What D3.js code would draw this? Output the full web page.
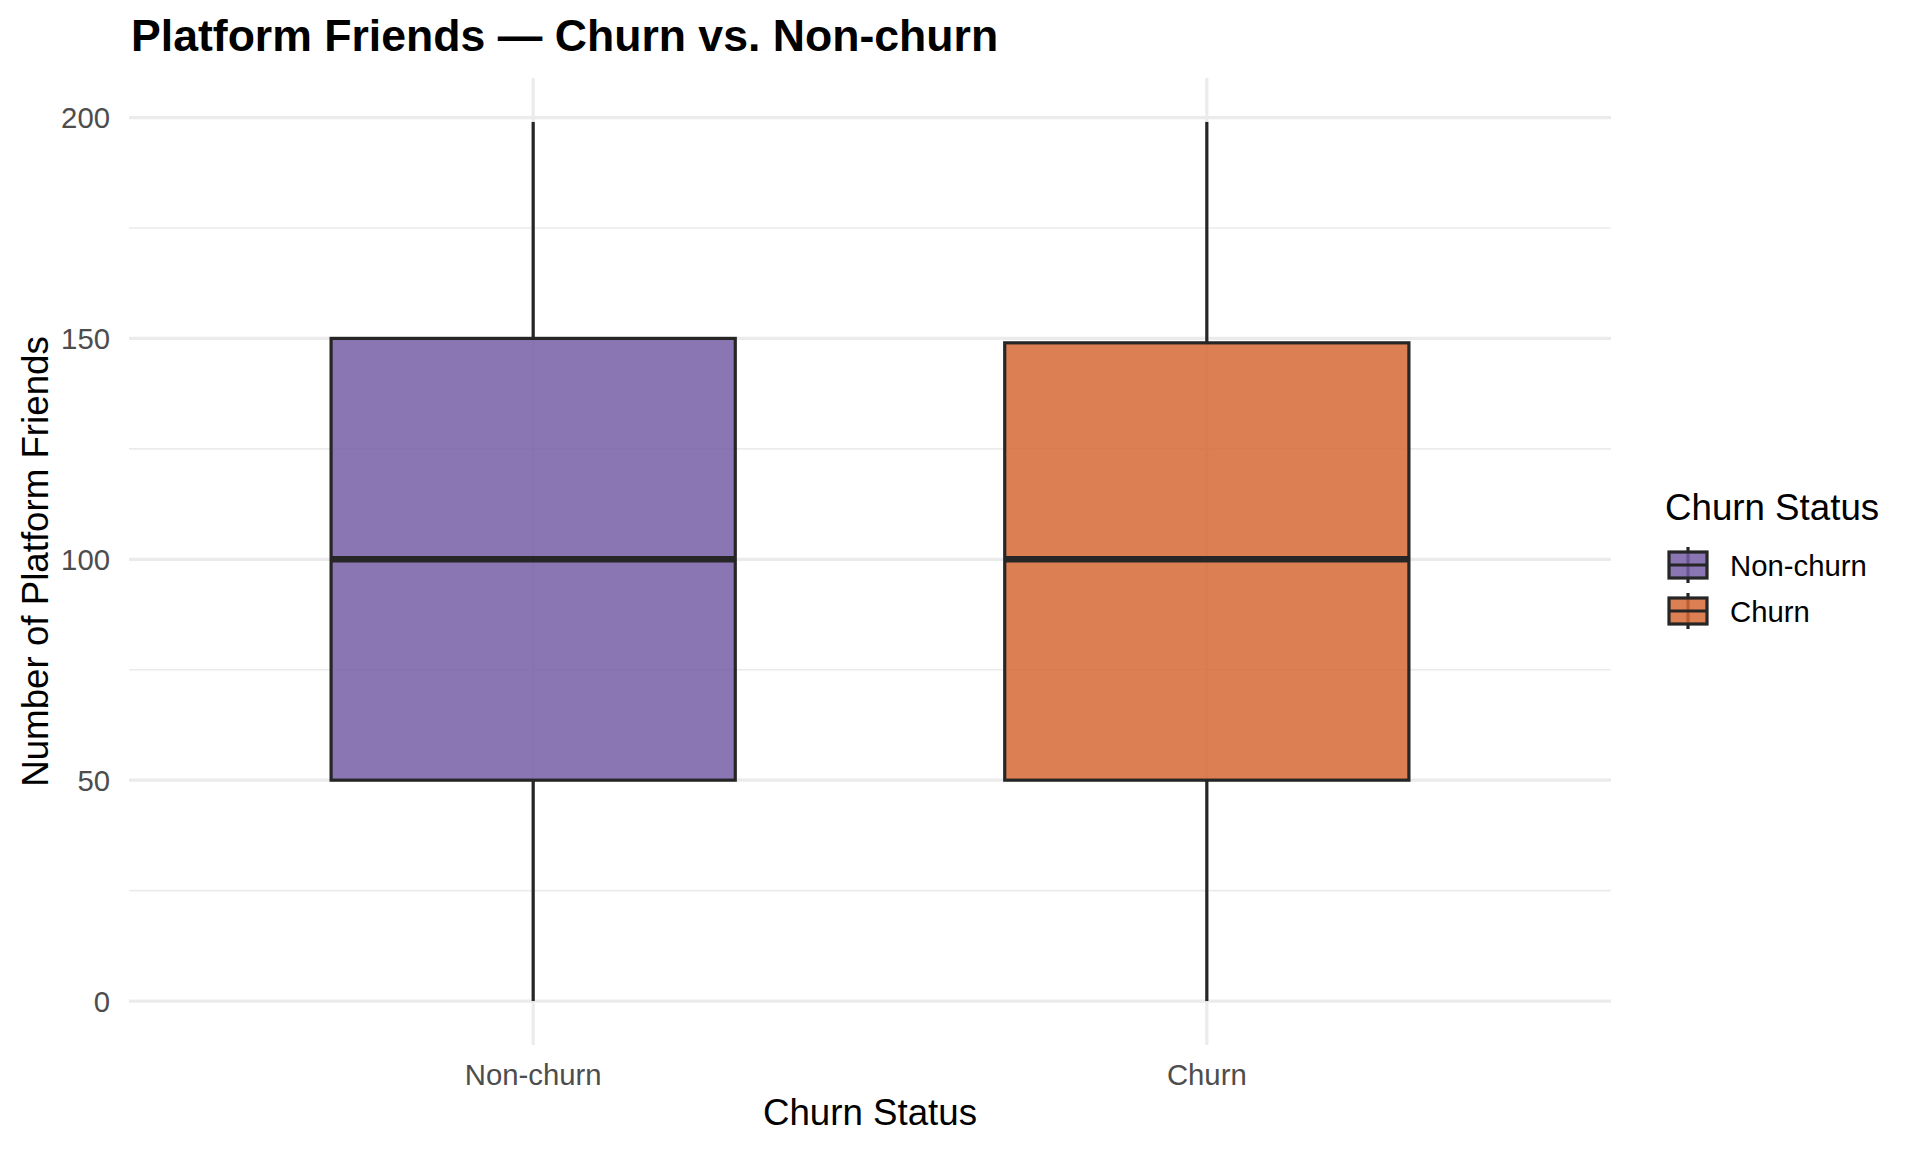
<!DOCTYPE html>
<html>
<head>
<meta charset="utf-8">
<script src="https://cdn.jsdelivr.net/npm/d3@7"></script>
<style>
  html, body { margin: 0; padding: 0; background: #ffffff; }
  svg { display: block; }
  text { font-family: "Liberation Sans", Arial, Helvetica, sans-serif; }
</style>
</head>
<body>
<script>
// ---- Data ----
const categories = ["Non-churn", "Churn"];
const whiskerLow = [0, 0];
const q1Values = [50, 50];
const medianValues = [100, 100];
const q3Values = [150, 149];
const whiskerHigh = [199, 199];
const fillColors = ["#755EA4", "#D66835"];
const yTicks = [0, 50, 100, 150, 200];
const yMinorTicks = [25, 75, 125, 175];

const chartTitle = "Platform Friends \u2014 Churn vs. Non-churn";
const xTitle = "Churn Status";
const yTitle = "Number of Platform Friends";
const legendTitle = "Churn Status";

const boxes = categories.map((c, i) => ({
  cat: c, lo: whiskerLow[i], q1: q1Values[i], med: medianValues[i],
  q3: q3Values[i], hi: whiskerHigh[i], fill: fillColors[i]
}));

// ---- Layout ----
const W = 1920, H = 1152;
const panel = { left: 129, right: 1611, top: 78, bottom: 1045 };
const ink = "#262626";
const gridCol = "#EBEBEB";

const svg = d3.select("body").append("svg").attr("width", W).attr("height", H);

const x = d3.scaleBand().domain(categories)
  .range([panel.left, panel.right]).paddingInner(0).paddingOuter(0.1);
const dataMin = d3.min(whiskerLow), dataMax = d3.max(whiskerHigh);
const yDomainMin = dataMin - 0.05 * (dataMax - dataMin);
const yDomainMax = dataMax + 0.05 * (dataMax - dataMin);
const y = d3.scaleLinear().domain([yDomainMin, yDomainMax]).range([panel.bottom, panel.top]);
const color = d3.scaleOrdinal().domain(categories).range(fillColors);

const cx = d => x(d) + x.bandwidth() / 2;
const boxW = x.bandwidth() * 0.6;

// ---- Grid ----
const grid = svg.append("g");
grid.selectAll(".minor").data(yMinorTicks).join("line")
  .attr("x1", panel.left).attr("x2", panel.right)
  .attr("y1", d => y(d)).attr("y2", d => y(d))
  .attr("stroke", gridCol).attr("stroke-width", 1.6);
grid.selectAll(".major").data(yTicks).join("line")
  .attr("x1", panel.left).attr("x2", panel.right)
  .attr("y1", d => y(d)).attr("y2", d => y(d))
  .attr("stroke", gridCol).attr("stroke-width", 3.2);
grid.selectAll(".vmajor").data(categories).join("line")
  .attr("x1", d => cx(d)).attr("x2", d => cx(d))
  .attr("y1", panel.top).attr("y2", panel.bottom)
  .attr("stroke", gridCol).attr("stroke-width", 3.2);

// ---- Boxes ----
const g = svg.append("g");
boxes.forEach(b => {
  const c = cx(b.cat);
  g.append("line").attr("x1", c).attr("x2", c)
    .attr("y1", y(b.q3)).attr("y2", y(b.hi))
    .attr("stroke", ink).attr("stroke-width", 3.2);
  g.append("line").attr("x1", c).attr("x2", c)
    .attr("y1", y(b.q1)).attr("y2", y(b.lo))
    .attr("stroke", ink).attr("stroke-width", 3.2);
  g.append("rect")
    .attr("x", c - boxW / 2).attr("width", boxW)
    .attr("y", y(b.q3)).attr("height", y(b.q1) - y(b.q3))
    .attr("fill", color(b.cat)).attr("fill-opacity", 0.85)
    .attr("stroke", ink).attr("stroke-width", 3.2);
  g.append("line")
    .attr("x1", c - boxW / 2).attr("x2", c + boxW / 2)
    .attr("y1", y(b.med)).attr("y2", y(b.med))
    .attr("stroke", ink).attr("stroke-width", 6.4);
});

// ---- Axes labels ----
const tickFont = 29.3, tickCol = "#4D4D4D";
svg.append("g").selectAll("text").data(yTicks).join("text")
  .attr("x", 110).attr("y", d => y(d)).attr("dy", "0.36em")
  .attr("text-anchor", "end").attr("font-size", tickFont).attr("fill", tickCol)
  .text(d => d);
svg.append("g").selectAll("text").data(categories).join("text")
  .attr("x", d => cx(d)).attr("y", 1085)
  .attr("text-anchor", "middle").attr("font-size", tickFont).attr("fill", tickCol)
  .text(d => d);

svg.append("text").attr("x", (panel.left + panel.right) / 2).attr("y", 1125)
  .attr("text-anchor", "middle").attr("font-size", 36.7).attr("fill", "#000")
  .text(xTitle);
svg.append("text")
  .attr("transform", `translate(48, ${(panel.top + panel.bottom) / 2}) rotate(-90)`)
  .attr("text-anchor", "middle").attr("font-size", 36.7).attr("fill", "#000")
  .text(yTitle);

// ---- Title ----
svg.append("text").attr("x", 131).attr("y", 51)
  .attr("font-size", 44.6).attr("font-weight", "bold").attr("fill", "#000")
  .text(chartTitle);

// ---- Legend ----
const lg = svg.append("g");
lg.append("text").attr("x", 1665).attr("y", 520)
  .attr("font-size", 36.7).attr("fill", "#000").text(legendTitle);
const keyCY = [565, 611];
const keyCX = 1688, keyW = 38, keyBoxH = 26, keyWhisk = 18;
categories.forEach((c, i) => {
  const cy = keyCY[i];
  lg.append("line").attr("x1", keyCX).attr("x2", keyCX)
    .attr("y1", cy - keyWhisk).attr("y2", cy + keyWhisk)
    .attr("stroke", ink).attr("stroke-width", 3.2);
  lg.append("rect").attr("x", keyCX - keyW / 2).attr("width", keyW)
    .attr("y", cy - keyBoxH / 2).attr("height", keyBoxH)
    .attr("fill", color(c)).attr("fill-opacity", 0.85)
    .attr("stroke", ink).attr("stroke-width", 3.2);
  lg.append("line").attr("x1", keyCX - keyW / 2).attr("x2", keyCX + keyW / 2)
    .attr("y1", cy).attr("y2", cy)
    .attr("stroke", ink).attr("stroke-width", 3.2);
  lg.append("text").attr("x", 1730).attr("y", cy).attr("dy", "0.36em")
    .attr("font-size", tickFont).attr("fill", "#000").text(c);
});
</script>
</body>
</html>
